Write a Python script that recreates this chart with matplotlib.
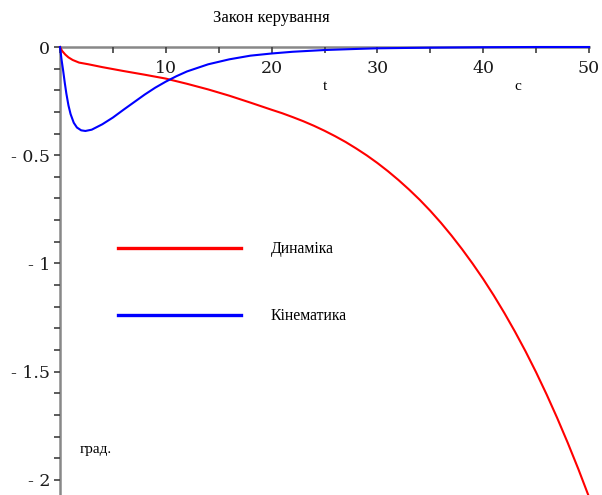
import matplotlib.pyplot as plt
from matplotlib.ticker import MultipleLocator, FuncFormatter
from matplotlib.lines import Line2D

# Dynamics curve (red)
t_dyn = [0, 0.2, 0.5, 0.8, 1.2, 1.8, 2.7, 4, 6, 8, 10, 12, 14, 16, 18, 20, 21, 22, 23, 24,
         25, 26, 27, 28, 29, 30, 31, 32, 33, 34, 35, 36, 37, 38, 39, 40, 41, 42, 43, 44,
         45, 46, 47, 48, 49, 50]
u_dyn = [0, -0.018, -0.035, -0.048, -0.06, -0.072, -0.08, -0.093, -0.111, -0.128, -0.146,
         -0.170, -0.196, -0.225, -0.257, -0.29, -0.306, -0.324, -0.343, -0.364, -0.387,
         -0.412, -0.439, -0.469, -0.501, -0.536, -0.574, -0.615, -0.659, -0.706, -0.757,
         -0.812, -0.871, -0.934, -1.001, -1.072, -1.148, -1.229, -1.315, -1.406, -1.503,
         -1.606, -1.715, -1.830, -1.951, -2.079]

# Kinematics curve (blue)
t_kin = [0, 0.15, 0.3, 0.45, 0.6, 0.8, 1, 1.3, 1.6, 2, 2.4, 3, 4, 5, 6, 7, 8, 9, 10, 11, 12,
         14, 16, 18, 20, 22, 25, 28, 30, 35, 40, 45, 50]
u_kin = [0, -0.06, -0.11, -0.165, -0.215, -0.27, -0.31, -0.35, -0.372, -0.385, -0.388,
         -0.382, -0.357, -0.326, -0.29, -0.255, -0.22, -0.188, -0.16, -0.135, -0.113,
         -0.08, -0.057, -0.04, -0.03, -0.022, -0.014, -0.009, -0.006, -0.003, -0.001, 0, 0]

labels = ['Динаміка', 'Кінематика']
colors = ['#ff0000', '#0000ff']

fig = plt.figure(figsize=(6.02, 4.95), dpi=100)
ax = fig.add_axes([60 / 602, 0, 529 / 602, 448 / 495])

ax.plot(t_dyn, u_dyn, color=colors[0], lw=1.5, clip_on=False)
ax.plot(t_kin, u_kin, color=colors[1], lw=1.5, clip_on=False)

ax.set_xlim(0, 50)
ax.set_ylim(-2.07, 0)

for s in ['right', 'top']:
    ax.spines[s].set_visible(False)
ax.spines['bottom'].set_position(('data', 0))
ax.spines['left'].set_position(('data', 0))
for s in ['bottom', 'left']:
    ax.spines[s].set_color('#888888')
    ax.spines[s].set_linewidth(1.8)
    ax.spines[s].set_zorder(0)

ax.xaxis.set_major_locator(MultipleLocator(10))
ax.xaxis.set_minor_locator(MultipleLocator(5))
ax.yaxis.set_major_locator(MultipleLocator(0.5))
ax.yaxis.set_minor_locator(MultipleLocator(0.1))

ax.xaxis.set_major_formatter(FuncFormatter(lambda v, p: '' if v == 0 else f'{v:g}'))
ax.yaxis.set_major_formatter(FuncFormatter(lambda v, p: f'{v:g}'.replace('-', '- ')))
ax.tick_params(axis='both', which='both', color='#404040', width=1.2, length=4.5)
ax.tick_params(axis='x', which='major', direction='out', pad=5)
ax.tick_params(axis='y', which='major', direction='out', pad=2.5)
for lab in ax.get_xticklabels() + ax.get_yticklabels():
    lab.set_fontfamily('DejaVu Serif')
    lab.set_fontsize(12.5)
    lab.set_color('#1a1a1a')

txt = {'family': 'Liberation Serif', 'size': 11, 'color': 'black'}
fig.text(271 / 602, 1 - 18 / 495, 'Закон керування', ha='center', va='center',
         family='Liberation Serif', size=12, color='black')
fig.text(325 / 602, 1 - 87 / 495, 't', ha='center', va='center', **txt)
fig.text(518 / 602, 1 - 87 / 495, 'с', ha='center', va='center', **txt)
fig.text(80 / 602, 1 - 449 / 495, 'град.', ha='left', va='center', **txt)

handles = [Line2D([], [], color=c, lw=2.4) for c in colors]
fig.legend(handles, labels, loc='upper left', bbox_to_anchor=(118 / 602, 1 - 241 / 495),
           bbox_transform=fig.transFigure, frameon=False, borderpad=0, borderaxespad=0,
           handlelength=7.83, handletextpad=1.9, labelspacing=3.27,
           prop={'family': 'Liberation Serif', 'size': 11.3})

plt.savefig('out.png', dpi=100)
